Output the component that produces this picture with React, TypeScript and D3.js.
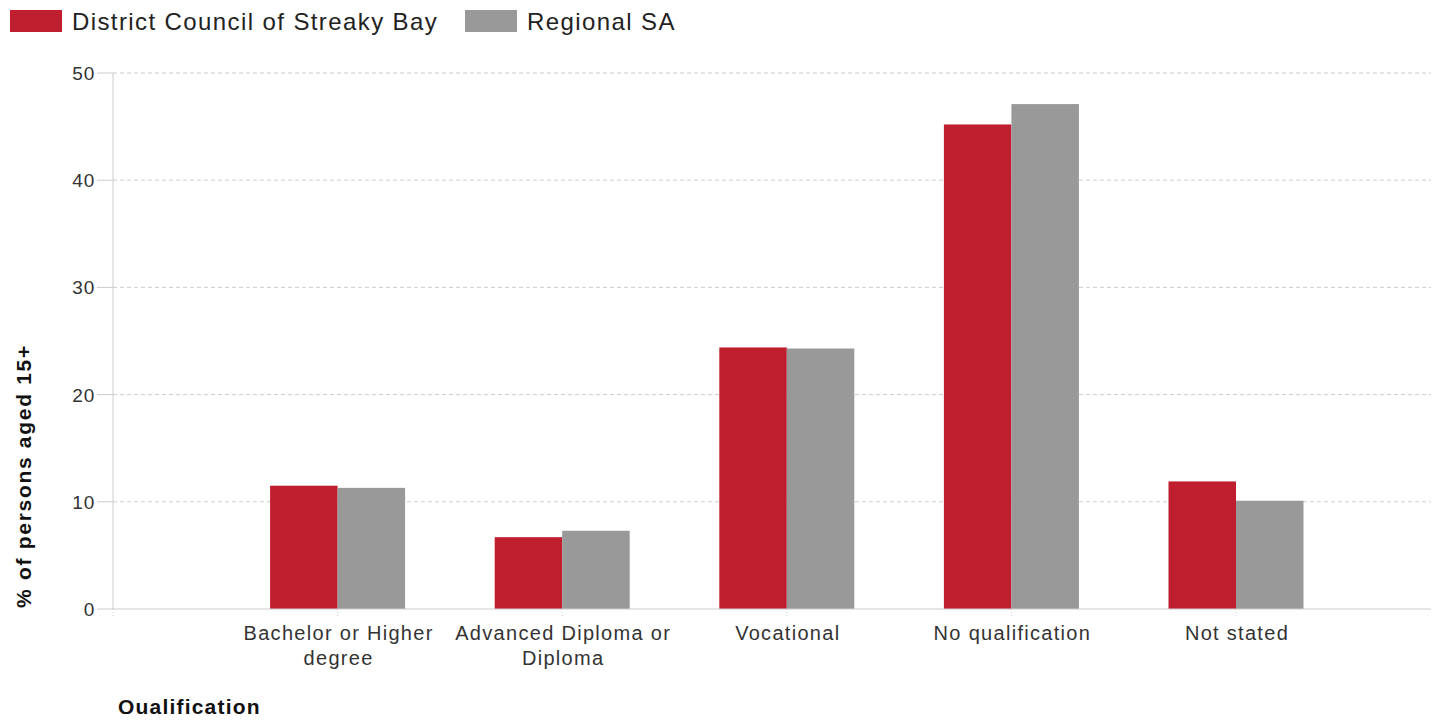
import { useEffect, useRef } from 'react';
import * as d3 from 'd3';

const categories = ['Bachelor or Higher degree', 'Advanced Diploma or Diploma', 'Vocational', 'No qualification', 'Not stated'];
const categoryLines = [['Bachelor or Higher', 'degree'], ['Advanced Diploma or', 'Diploma'], ['Vocational'], ['No qualification'], ['Not stated']];
const streakyBay = [11.5, 6.7, 24.4, 45.2, 11.9];
const regionalSA = [11.3, 7.3, 24.3, 47.1, 10.1];
const yTicks = [0, 10, 20, 30, 40, 50];

const seriesNames = ['District Council of Streaky Bay', 'Regional SA'];
const seriesColors = ['#be1e2d', '#999999'];

export default function App() {
  const svgRef = useRef<SVGSVGElement>(null);

  useEffect(() => {
    if (!svgRef.current) return;
    const svg = d3.select(svgRef.current);
    svg.selectAll('*').remove();

    const font = 'Arial, "Liberation Sans", sans-serif';
    const left = 113;
    const right = 1431;
    const top = 73;
    const bottom = 609;

    const y = d3.scaleLinear().domain([0, 50]).range([bottom, top]);
    // first slot is empty and sits on the y axis
    const x = d3.scalePoint<string>().domain(['', ...categories]).range([left, left + 5 * 224.6]);
    const barW = 67.5;

    // gridlines
    svg.append('g')
      .selectAll('line')
      .data(yTicks.filter(t => t > 0))
      .join('line')
      .attr('x1', left)
      .attr('x2', right)
      .attr('y1', d => y(d))
      .attr('y2', d => y(d))
      .attr('stroke', '#cccccc')
      .attr('stroke-dasharray', '4,3');

    // y tick marks and labels
    const yg = svg.append('g');
    yg.selectAll('line')
      .data(yTicks)
      .join('line')
      .attr('x1', 97)
      .attr('x2', left)
      .attr('y1', d => y(d))
      .attr('y2', d => y(d))
      .attr('stroke', '#cccccc');
    yg.selectAll('text')
      .data(yTicks)
      .join('text')
      .attr('x', 95)
      .attr('y', d => y(d) + 7)
      .attr('text-anchor', 'end')
      .attr('font-family', font)
      .attr('font-size', 19)
      .attr('letter-spacing', 0.8)
      .attr('fill', '#333')
      .text(d => d);

    // bars
    const series = [streakyBay, regionalSA];
    series.forEach((vals, si) => {
      svg.append('g')
        .selectAll('rect')
        .data(vals)
        .join('rect')
        .attr('x', (d, i) => (x(categories[i]) as number) + (si === 0 ? -barW : 0))
        .attr('y', d => y(d))
        .attr('width', barW)
        .attr('height', d => y(0) - y(d))
        .attr('fill', seriesColors[si]);
    });

    // axes lines
    svg.append('line')
      .attr('x1', left).attr('x2', left)
      .attr('y1', top).attr('y2', bottom)
      .attr('stroke', '#cccccc');
    svg.append('line')
      .attr('x1', left).attr('x2', right)
      .attr('y1', bottom).attr('y2', bottom)
      .attr('stroke', '#cccccc');

    // x tick marks
    svg.append('g')
      .selectAll('line')
      .data(['', ...categories])
      .join('line')
      .attr('x1', d => x(d) as number)
      .attr('x2', d => x(d) as number)
      .attr('y1', bottom)
      .attr('y2', bottom + 8)
      .attr('stroke', '#cccccc')
      .attr('stroke-dasharray', '1,2');

    // x labels
    const xl = svg.append('g');
    categories.forEach((c, i) => {
      const t = xl.append('text')
        .attr('x', x(c) as number)
        .attr('y', 640)
        .attr('text-anchor', 'middle')
        .attr('font-family', font)
        .attr('font-size', 20)
        .attr('letter-spacing', 1.3)
        .attr('fill', '#333');
      categoryLines[i].forEach((line, li) => {
        t.append('tspan')
          .attr('x', (x(c) as number) + 1)
          .attr('dy', li === 0 ? 0 : 25)
          .text(line);
      });
    });

    // axis titles
    svg.append('text')
      .attr('transform', 'translate(31, 476) rotate(-90)')
      .attr('text-anchor', 'middle')
      .attr('font-family', font)
      .attr('font-size', 21)
      .attr('font-weight', 'bold')
      .attr('letter-spacing', 1.7)
      .attr('fill', '#111')
      .text('% of persons aged 15+');
    svg.append('text')
      .attr('x', 118)
      .attr('y', 714)
      .attr('font-family', font)
      .attr('font-size', 21)
      .attr('font-weight', 'bold')
      .attr('letter-spacing', 1.2)
      .attr('fill', '#111')
      .text('Qualification');

    // legend
    const legendX = [10, 465];
    seriesNames.forEach((name, i) => {
      svg.append('rect')
        .attr('x', legendX[i])
        .attr('y', 10)
        .attr('width', 52)
        .attr('height', 22)
        .attr('fill', seriesColors[i]);
      svg.append('text')
        .attr('x', legendX[i] + 62)
        .attr('y', 30)
        .attr('font-family', font)
        .attr('font-size', 24)
        .attr('letter-spacing', 1.4)
        .attr('fill', '#222')
        .text(name);
    });
  }, []);

  return (
    <div style={{ margin: -8 }}>
      <svg ref={svgRef} width={1441} height={722} style={{ display: 'block', background: '#fff' }} />
    </div>
  );
}
